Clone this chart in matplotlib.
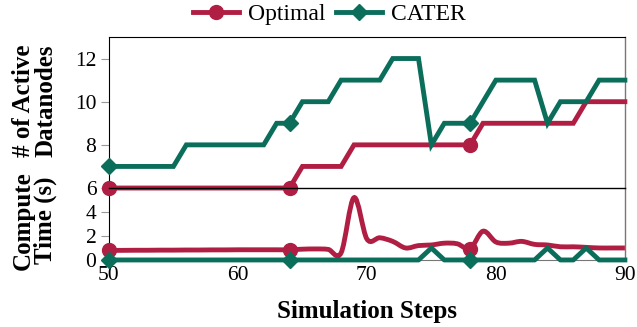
import matplotlib.pyplot as plt
from matplotlib.path import Path
from matplotlib.patches import PathPatch

plt.rcParams['font.family'] = ['Liberation Serif', 'DejaVu Serif']

# data
steps = list(range(50, 91))
optimal_nodes = [6] * 15 + [7] * 4 + [8] * 10 + [9] * 8 + [10] * 4
cater_nodes = ([7] * 6 + [8] * 7 + [9] * 2 + [10] * 3 + [11] * 4 + [12] * 3
               + [8] + [9] * 3 + [10] + [11] * 4 + [9] + [10] * 3 + [11] * 3)
optimal_time = [0.80, 0.80, 0.81, 0.81, 0.82, 0.82, 0.83, 0.83, 0.84, 0.84,
                0.85, 0.85, 0.85, 0.85, 0.85, 0.90, 0.92, 0.88, 0.60, 5.20,
                1.75, 1.85, 1.55, 1.00, 1.20, 1.25, 1.40, 1.35, 0.95, 2.40,
                1.50, 1.40, 1.55, 1.30, 1.25, 1.10, 1.10, 1.05, 1.00, 1.00,
                1.00]
cater_time = [0.0] * 41
for s in (75, 84, 87):
    cater_time[s - 50] = 1.0
mark_steps = [50, 64, 78]

red = '#b01f43'
green = '#0b6e5b'
lw = 3.5


def smooth_path(xs, ys):
    # catmull-rom style cubic bezier through the points (like pgfplots "smooth")
    pts = list(zip(xs, ys))
    verts = [pts[0]]
    codes = [Path.MOVETO]
    n = len(pts)
    for i in range(n - 1):
        p0 = pts[i - 1] if i > 0 else pts[i]
        p1 = pts[i]
        p2 = pts[i + 1]
        p3 = pts[i + 2] if i + 2 < n else pts[i + 1]
        c1 = (p1[0] + (p2[0] - p0[0]) / 6, p1[1] + (p2[1] - p0[1]) / 6)
        c2 = (p2[0] - (p3[0] - p1[0]) / 6, p2[1] - (p3[1] - p1[1]) / 6)
        verts += [c1, c2, p2]
        codes += [Path.CURVE4] * 3
    return Path(verts, codes)


fig = plt.figure(figsize=(6.37, 3.27), dpi=100)
ax2 = fig.add_axes([0.171, 0.205, 0.810, 0.220])
ax1 = fig.add_axes([0.171, 0.425, 0.810, 0.462])
ax1.patch.set_visible(False)

mk = [s - 50 for s in mark_steps]

# top: number of active datanodes
ax1.plot(steps, optimal_nodes, color=red, lw=lw, marker='o', markersize=10,
         markevery=mk, label='Optimal', solid_joinstyle='miter', clip_on=False, zorder=3)
ax1.plot(steps, cater_nodes, color=green, lw=lw, marker='D', markersize=8,
         markevery=mk, label='CATER', solid_joinstyle='miter', clip_on=False, zorder=4)
ax1.set_xlim(50, 90)
ax1.set_ylim(6, 13)
ax1.set_yticks([6, 8, 10, 12])
ax1.set_xticks([])

# bottom: compute time
patch = PathPatch(smooth_path(steps, optimal_time), facecolor='none',
                  edgecolor=red, lw=lw, clip_on=False, zorder=3)
ax2.add_patch(patch)
ax2.plot(mark_steps, [optimal_time[i] for i in mk], 'o', color=red,
         markersize=10, clip_on=False, zorder=3)
ax2.plot(steps, cater_time, color=green, lw=lw, marker='D', markersize=8,
         markevery=mk, clip_on=False, zorder=4)
ax2.set_xlim(50, 90)
ax2.set_ylim(0, 6)
ax2.set_yticks([0, 2, 4])
ax2.set_xticks([50, 60, 70, 80, 90])

for ax in (ax1, ax2):
    ax.tick_params(axis='y', direction='out', length=6, width=0.8,
                   color='#999999', labelsize=15.5, pad=3)
    ax.tick_params(axis='x', length=0, labelsize=15.5, pad=4)
    ax.spines['right'].set_color('#777777')
    ax.spines['left'].set_color('black')
    ax.spines['right'].set_linewidth(1.0)
ax2.spines['bottom'].set_color('#777777')
ax1.spines['bottom'].set_linewidth(1.0)
ax1.spines['bottom'].set_zorder(5)
ax2.spines['top'].set_visible(False)

ax1.set_ylabel('# of Active\nDatanodes', fontsize=18, fontweight='bold',
               linespacing=0.95)
ax2.set_ylabel('Compute\nTime (s)', fontsize=18, fontweight='bold',
               linespacing=0.95)
ax1.yaxis.set_label_coords(-0.10, 0.58)
ax2.yaxis.set_label_coords(-0.10, 0.55)
ax2.set_xlabel('Simulation Steps', fontsize=18, fontweight='bold')
ax2.xaxis.set_label_coords(0.5, -0.55)

fig.legend(*ax1.get_legend_handles_labels(), loc='center',
           bbox_to_anchor=(0.517, 0.957), ncol=2, frameon=False, fontsize=17,
           handlelength=1.95, handletextpad=0.4, columnspacing=0.42,
           borderpad=0.1)

fig.savefig('out.png', dpi=100)
